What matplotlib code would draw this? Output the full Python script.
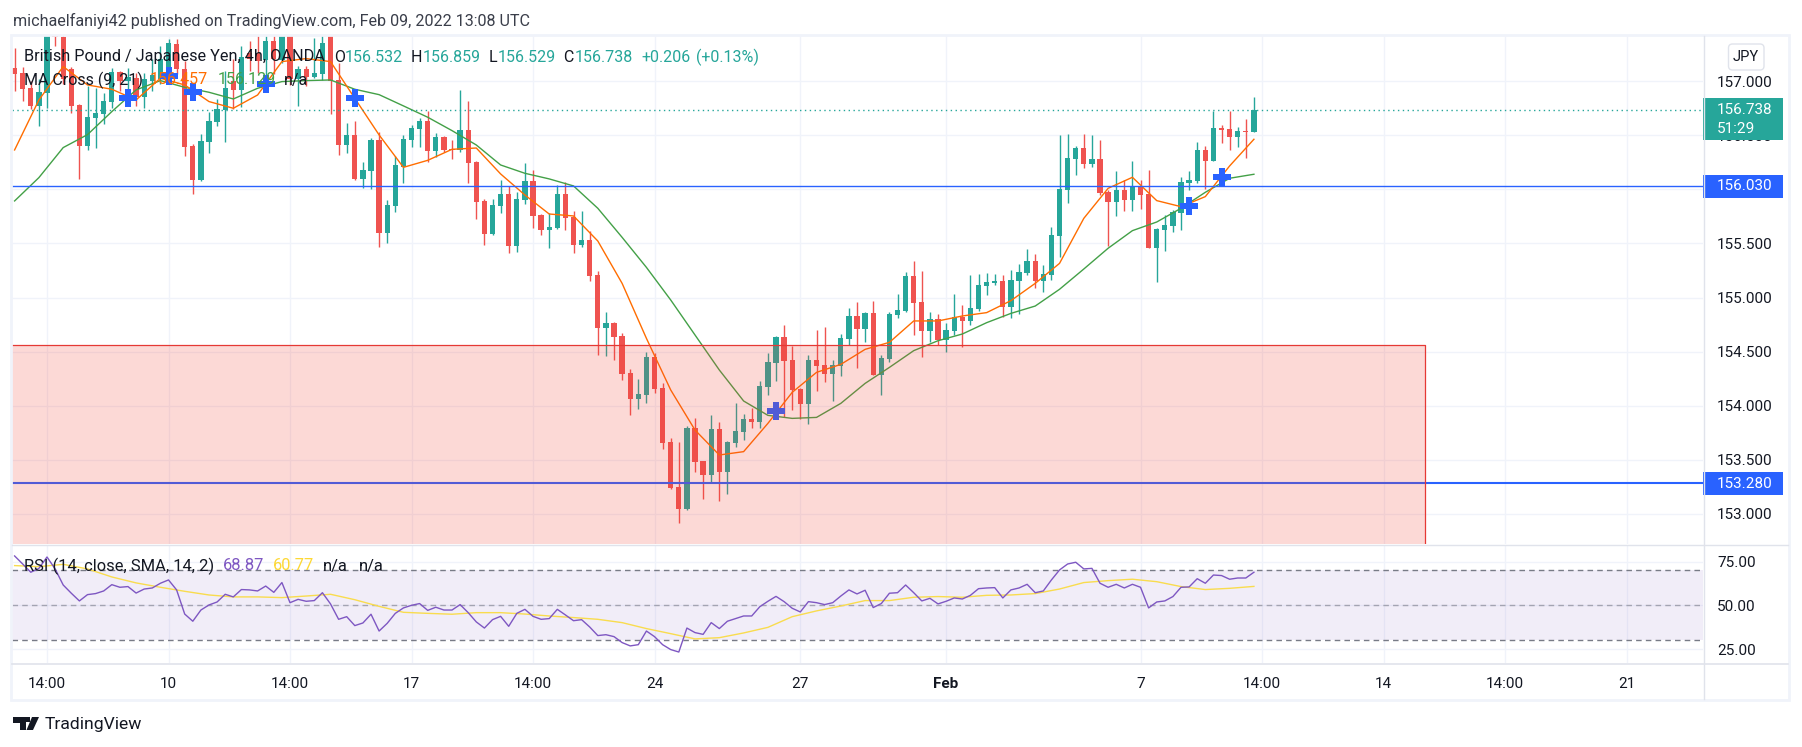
import matplotlib
matplotlib.use("Agg")
import matplotlib.pyplot as plt
from matplotlib.patches import Rectangle, Polygon, FancyBboxPatch

plt.rcParams['font.family'] = ['Roboto', 'DejaVu Sans']

opens = [157.125,157.075,156.943,156.773,156.896,157.600,157.412,157.119,156.782,156.403,
         156.662,156.699,156.810,157.088,157.007,157.035,156.853,157.004,157.020,157.082,
         157.344,157.119,156.400,156.088,156.440,156.625,156.736,157.007,156.921,157.267,
         157.267,157.199,157.375,157.199,157.440,157.026,157.119,157.038,157.066,157.440,
         157.014,156.412,156.505,156.097,156.175,156.459,155.601,155.847,156.212,156.459,
         156.560,156.634,156.360,156.486,156.375,156.366,156.551,156.255,155.894,155.588,
         155.847,155.959,155.477,155.903,156.079,155.764,155.625,155.644,155.959,155.746,
         155.486,155.533,155.209,154.718,154.764,154.644,154.298,154.060,154.097,154.449,
         154.162,153.662,153.246,153.042,153.792,153.486,153.357,153.783,153.385,153.653,
         153.755,153.875,153.847,154.172,154.394,154.634,154.421,154.153,154.014,154.421,
         154.375,154.292,154.366,154.616,154.829,154.708,154.857,154.283,154.431,154.838,
         154.875,155.199,154.958,154.690,154.801,154.607,154.690,154.820,154.783,154.894,
         155.107,155.134,155.153,154.912,155.153,155.227,155.338,155.153,155.209,155.570,
         155.996,156.283,156.384,156.236,156.283,155.977,155.885,155.996,155.903,156.033,
         155.959,155.459,155.625,155.662,155.783,156.061,156.079,156.366,156.264,156.570,
         156.560,156.486,156.542,156.532]
highs = [157.310,157.134,157.004,157.020,157.700,157.650,157.550,157.137,156.795,156.958,
         156.943,156.890,157.128,157.100,157.128,157.082,157.082,157.205,157.328,157.396,
         157.390,157.190,156.418,156.511,156.717,156.835,157.097,157.205,157.328,157.375,
         157.430,157.450,157.460,157.500,157.500,157.143,157.143,157.400,157.450,157.500,
         157.174,156.619,156.634,156.258,156.474,156.536,155.903,156.310,156.505,156.597,
         156.662,156.727,156.526,156.495,156.459,156.921,156.820,156.260,155.912,155.912,
         156.088,156.033,155.980,156.242,156.181,155.770,155.780,156.042,156.073,155.801,
         155.801,155.616,155.246,154.866,154.770,154.668,154.335,154.246,154.492,154.483,
         154.205,153.696,153.662,153.810,153.884,153.490,153.912,153.847,153.670,154.023,
         153.922,153.977,154.227,154.486,154.640,154.745,154.551,154.160,154.468,154.699,
         154.727,154.421,154.662,154.903,154.958,154.866,154.968,154.468,154.866,155.032,
         155.236,155.338,155.245,154.866,154.847,154.764,155.032,154.931,155.208,155.218,
         155.227,155.218,155.208,155.255,155.310,155.449,155.403,155.301,155.653,156.505,
         156.514,156.403,156.514,156.505,156.459,155.996,156.172,156.088,156.264,156.088,
         156.181,155.644,155.764,155.810,156.116,156.172,156.440,156.403,156.727,156.597,
         156.727,156.579,156.653,156.859]
lows = [156.912,156.819,156.748,156.588,156.758,157.328,156.974,156.711,156.100,156.366,
        156.387,156.606,156.758,156.912,156.773,156.773,156.758,156.912,156.974,156.974,
        157.066,156.310,155.961,156.080,156.335,156.588,156.440,156.748,156.764,157.097,
        157.082,157.020,157.066,157.170,156.967,156.773,156.958,157.030,157.014,156.696,
        156.320,156.335,156.088,156.017,156.005,155.471,155.502,155.795,156.064,156.397,
        156.397,156.258,156.298,156.347,156.286,156.351,156.064,155.727,155.486,155.580,
        155.786,155.415,155.425,155.866,155.644,155.579,155.459,155.635,155.625,155.415,
        155.471,155.153,154.468,154.459,154.422,154.236,153.912,153.968,154.026,154.113,
        153.597,153.230,152.912,153.033,153.385,153.135,153.286,153.116,153.181,153.616,
        153.681,153.792,153.792,154.097,154.227,153.897,153.959,153.875,153.829,154.134,
        154.218,154.042,154.273,154.560,154.347,154.588,154.280,154.097,154.403,154.810,
        154.866,154.653,154.449,154.588,154.560,154.496,154.653,154.542,154.745,154.875,
        155.023,155.116,154.820,154.810,154.847,155.208,155.088,155.051,155.162,155.378,
        155.875,156.134,156.199,156.209,155.949,155.477,155.755,155.801,155.801,155.820,
        155.455,155.144,155.431,155.607,155.625,155.996,156.061,156.005,156.260,156.431,
        156.366,156.394,156.292,156.529]
closes = [157.069,156.933,156.773,156.903,157.600,157.409,157.026,156.773,156.403,156.671,
          156.705,156.819,157.088,157.004,157.038,156.856,157.020,157.057,157.211,157.353,
          157.112,156.396,156.088,156.449,156.634,156.742,156.943,156.921,157.230,157.211,
          157.190,157.375,157.205,157.440,157.020,157.119,157.041,157.082,157.359,157.004,
          156.412,156.505,156.097,156.181,156.459,155.601,155.857,156.227,156.468,156.570,
          156.634,156.360,156.486,156.366,156.366,156.551,156.249,155.888,155.588,155.857,
          155.959,155.477,155.912,156.079,155.755,155.625,155.653,155.959,155.736,155.486,
          155.533,155.199,154.718,154.764,154.635,154.292,154.060,154.107,154.449,154.153,
          153.653,153.236,153.042,153.792,153.477,153.357,153.783,153.385,153.662,153.764,
          153.875,153.847,154.181,154.403,154.634,154.412,154.144,154.014,154.421,154.366,
          154.292,154.375,154.625,154.829,154.708,154.857,154.283,154.440,154.847,154.884,
          155.199,154.949,154.690,154.801,154.607,154.699,154.820,154.783,154.903,155.116,
          155.144,155.153,154.912,155.162,155.236,155.338,155.153,155.218,155.579,156.005,
          156.292,156.384,156.236,156.283,155.968,155.885,155.996,155.903,156.033,155.949,
          155.459,155.635,155.672,155.792,156.070,156.088,156.366,156.264,156.570,156.551,
          156.486,156.542,156.532,156.738]

# moving averages and rsi signal line, read every third bar
ma_bars = list(range(0, 154, 3))
ma_fast = [156.366,156.829,157.138,156.968,156.928,156.829,157.030,156.968,156.814,156.752,
           156.875,157.184,157.212,157.184,156.844,156.505,156.205,156.270,156.372,156.384,
           156.144,155.949,155.773,155.755,155.523,155.131,154.622,154.144,153.773,153.542,
           153.573,153.835,154.122,154.307,154.381,154.520,154.585,154.783,154.783,154.829,
           154.860,154.971,155.131,155.316,155.733,156.011,156.113,155.897,155.841,155.934,
           156.218,156.465]
ma_slow = [155.894,156.110,156.388,156.508,156.721,156.922,157.008,156.946,156.900,156.838,
           156.937,156.999,157.008,157.014,156.928,156.878,156.774,156.669,156.545,156.412,
           156.227,156.150,156.098,156.033,155.826,155.557,155.279,154.977,154.653,154.329,
           154.042,153.909,153.881,153.890,154.020,154.205,154.353,154.508,154.600,154.662,
           154.767,154.853,154.921,155.076,155.264,155.456,155.619,155.699,155.826,155.974,
           156.104,156.141]
rsi_ma = [72.7,72.1,73.4,70.8,66.2,62.8,60.3,58.0,55.9,54.8,54.8,54.4,55.3,56.3,53.2,49.4,
          46.0,45.4,44.9,45.8,45.8,45.0,43.9,43.0,42.0,40.1,36.7,33.8,30.8,31.5,34.2,37.4,
          43.5,46.8,49.6,52.7,52.7,54.6,55.0,54.6,55.7,55.9,56.7,59.3,63.0,64.1,64.9,63.5,
          60.7,59.0,59.7,60.8]
rsi_vals = [78.2,73.6,68.9,71.1,77.6,70.8,61.6,56.9,52.5,56.1,56.7,58.2,61.8,60.3,60.7,57.0,
            59.3,59.9,62.6,64.5,58.8,45.0,40.9,47.3,50.2,51.9,56.3,54.8,59.0,58.8,58.2,61.0,
            57.4,63.0,51.5,53.4,52.3,52.7,57.2,50.8,42.0,43.5,38.4,39.9,44.9,35.3,39.7,45.4,
            48.5,50.0,51.0,47.1,48.9,47.3,47.3,50.4,45.8,40.5,37.0,41.8,43.7,38.0,45.4,47.7,
            43.7,42.0,42.4,47.7,44.5,41.2,41.8,37.6,32.7,33.2,32.1,28.7,26.8,27.5,35.3,32.1,
            27.5,24.7,23.3,37.0,34.4,33.4,40.1,36.7,40.9,42.4,43.9,43.9,49.2,52.3,55.1,52.1,
            48.3,46.2,52.1,51.5,50.4,51.5,55.3,58.8,56.5,58.6,48.7,51.0,56.9,57.2,61.6,57.2,
            52.5,54.0,50.8,52.3,54.2,53.6,55.7,59.5,59.9,60.1,54.2,58.8,59.9,62.0,57.2,58.2,
            64.5,70.2,73.6,74.6,70.8,71.1,62.6,60.3,62.0,59.9,62.0,60.3,48.5,51.9,52.5,55.0,
            60.3,60.5,65.2,62.6,67.3,67.0,64.9,65.6,65.6,68.9]

cross_bars = [14, 19, 22, 31, 42, 94, 145, 149]
cross_prices = [156.847, 157.050, 156.900, 156.974, 156.847, 153.946, 155.844, 156.113]

time_bars = [4, 19, 34, 49, 64, 79, 97, 115, 139, 154, 169, 184, 199]
time_labels = ['14:00', '10', '14:00', '17', '14:00', '24', '27', 'Feb', '7', '14:00', '14', '14:00', '21']
price_ticks = [153.0, 153.5, 154.0, 154.5, 155.0, 155.5, 156.0, 156.5, 157.0]
rsi_ticks = [25, 50, 75]

last_price = 156.738
support_high = 156.03
support_low = 153.28
zone_top = 154.557
zone_bottom = 152.0
zone_end_bar = 174.06

W, H = 1802, 747
GREEN = '#26a69a'
RED = '#ef5350'
BLUE = '#2962ff'
TEXT = '#131722'
GRID = '#f0f3fa'
BORDER = '#e0e3eb'
FS = 11


def fx(px):
    return px / W


def fy(px):
    return 1 - px / H


def put(x, y, s, color=TEXT, size=FS, ha='left', **kw):
    fig.text(fx(x), fy(y), s, color=color, fontsize=size, ha=ha, va='center', **kw)


fig = plt.figure(figsize=(W / 100, H / 100), dpi=100, facecolor='white')

ax = fig.add_axes([fx(12), fy(544), fx(1691), (544 - 36) / H])
ax2 = fig.add_axes([fx(12), fy(663), fx(1691), (663 - 545) / H])

xlim = (-0.321, 208.44)
for a in (ax, ax2):
    a.set_xlim(xlim)
    for s in a.spines.values():
        s.set_visible(False)
    a.set_axisbelow(True)
    a.set_xticks(time_bars)
    a.grid(True, color=GRID, lw=1.0)
    a.yaxis.tick_right()
    a.tick_params(axis='y', length=0, pad=10, labelsize=FS, labelcolor=TEXT)

ax.set_ylim(152.718, 157.421)
ax.set_yticks(price_ticks)
ax.set_yticklabels(['%.3f' % p for p in price_ticks])
ax.tick_params(axis='x', length=0, labelbottom=False)

# candles
bars = list(range(len(opens)))
colors = [GREEN if c >= o else RED for o, c in zip(opens, closes)]
ax.vlines(bars, lows, highs, colors=colors, lw=1.0, zorder=3)
ax.bar(bars, [abs(c - o) for o, c in zip(opens, closes)], bottom=[min(o, c) for o, c in zip(opens, closes)],
       width=0.65, color=colors, lw=0, zorder=3)

ax.plot(ma_bars, ma_slow, color='#43a047', lw=1.0, zorder=4)
ax.plot(ma_bars, ma_fast, color='#ff6d00', lw=1.0, zorder=4)
ax.plot(cross_bars, cross_prices, ls='', marker='P', ms=12.5, mfc=BLUE, mew=0, zorder=5)

ax.axhline(last_price, color=GREEN, lw=1.0, ls=(0, (1, 2.5)), zorder=4)
ax.axhline(support_high, color=BLUE, lw=1.0, zorder=5)
ax.axhline(support_low, color=BLUE, lw=1.5, zorder=5)

# supply zone sits over everything
ax.add_patch(Rectangle((-5, zone_bottom), zone_end_bar + 5, zone_top - zone_bottom,
                       facecolor='#f44336', alpha=0.2, lw=0, zorder=6))
ax.plot([-5, zone_end_bar, zone_end_bar], [zone_top, zone_top, zone_bottom], color='#e53935', lw=0.9, zorder=6)

# price labels on the scale
box_w = 80 / 1691
yt = ax.get_yaxis_transform()
ax.add_patch(Rectangle((1, last_price - 0.28), box_w, 0.389, transform=yt, clip_on=False,
                       facecolor=GREEN, lw=0, zorder=7))
for p in (support_high, support_low):
    ax.add_patch(Rectangle((1, p - 0.106), box_w, 0.212, transform=yt, clip_on=False,
                           facecolor=BLUE, lw=0, zorder=7))

# rsi pane
ax2.set_ylim(17.03, 84.46)
ax2.set_yticks(rsi_ticks)
ax2.set_yticklabels(['%.2f' % r for r in rsi_ticks])
ax2.set_xticks(time_bars)
ax2.set_xticklabels(time_labels)
ax2.tick_params(axis='x', length=0, pad=10, labelsize=FS, labelcolor=TEXT)
ax2.get_xticklabels()[7].set_fontweight('bold')
ax2.axhspan(30, 70, color='#7e57c2', alpha=0.1, lw=0, zorder=1)
ax2.axhline(70, color='#787b86', lw=1.0, ls=(0, (4, 3)), zorder=2)
ax2.axhline(50, color='#787b86', lw=1.0, ls=(0, (4, 3)), alpha=0.6, zorder=2)
ax2.axhline(30, color='#787b86', lw=1.0, ls=(0, (4, 3)), zorder=2)
ax2.plot(ma_bars, rsi_ma, color='#f9dc4e', lw=1.0, zorder=3)
ax2.plot(bars, rsi_vals, color='#7e57c2', lw=1.0, zorder=4)

# frame
fig.add_artist(Rectangle((fx(11), fy(700)), fx(1778), (700 - 35) / H, fill=False, edgecolor=GRID, lw=2))
fig.add_artist(plt.Line2D([fx(12), fx(1788)], [fy(544.5), fy(544.5)], color=BORDER, lw=1))
fig.add_artist(plt.Line2D([fx(12), fx(1788)], [fy(663.5), fy(663.5)], color=BORDER, lw=1.2))
fig.add_artist(plt.Line2D([fx(1703.5), fx(1703.5)], [fy(36), fy(699)], color=BORDER, lw=1))

# texts
put(13, 21, 'michaelfaniyi42 published on TradingView.com, Feb 09, 2022 13:08 UTC', color='#3a3e4a', size=11.6)

put(24, 57, 'British Pound / Japanese Yen, 4h, OANDA', size=11.7)
for x, s in ((334, 'O'), (411, 'H'), (489, 'L'), (563, 'C')):
    put(x, 57, s, size=11.5)
for x, s in ((345, '156.532'), (423, '156.859'), (498, '156.529'), (575, '156.738'),
             (641, '+0.206'), (696, '(+0.13%)')):
    put(x, 57, s, color=GREEN, size=11.5)

put(24, 80, 'MA Cross (9, 21)', size=11.5)
put(150, 80, '156.457', color='#ff6d00', size=11.5)
put(218, 80, '156.129', color='#43a047', size=11.5)
put(284, 80, 'n/a', size=11.5)

put(24, 566, 'RSI (14, close, SMA, 14, 2)', size=11.9)
put(223, 566, '68.87', color='#7e57c2', size=11.9)
put(273, 566, '60.77', color='#fdd835', size=11.9)
put(323, 566, 'n/a', size=11.9)
put(359, 566, 'n/a', size=11.9)

# scale badges, above the tick labels
put(1717, 110, '156.738', color='white', zorder=8)
put(1717, 129, '51:29', color='white', zorder=8)
put(1717, 186.5, '156.030', color='white', zorder=8)
put(1717, 483.5, '153.280', color='white', zorder=8)

fig.add_artist(FancyBboxPatch((1728.5 + 4, H - 70 + 4), 35.5 - 8, 26 - 8, boxstyle='round,pad=4,rounding_size=4',
                              transform=None, facecolor='white', edgecolor=BORDER, lw=1, zorder=2))
put(1746, 57, 'JPY', ha='center', size=10.5)

# TradingView logo
fig.add_artist(Polygon([(fx(13), fy(717)), (fx(26), fy(717)), (fx(26), fy(730)), (fx(20), fy(730)),
                        (fx(20), fy(723)), (fx(13), fy(723))], closed=True, facecolor=TEXT, lw=0))
fig.add_artist(Polygon([(fx(32), fy(717)), (fx(39), fy(717)), (fx(33), fy(730)), (fx(26.5), fy(730))],
                       closed=True, facecolor=TEXT, lw=0))
fig.add_artist(Rectangle((fx(26), fy(722)), fx(4), 5 / H, facecolor=TEXT, lw=0))
put(45, 724, 'TradingView', size=12.6)

fig.savefig('out.png', dpi=100)
